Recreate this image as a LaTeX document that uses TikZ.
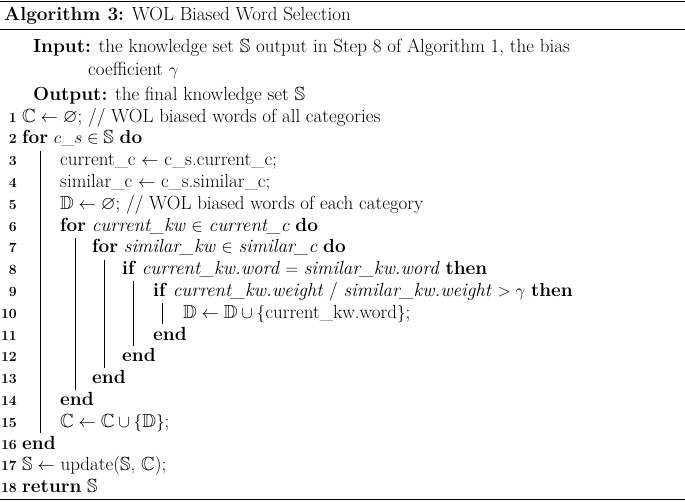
\documentclass[tikz,border=0pt]{standalone}
\usepackage{amssymb}
\begin{document}
\begin{tikzpicture}[x=1pt,y=-1pt,
  txt/.style={anchor=base west,inner sep=0pt,font=\fontsize{19}{22}\selectfont},
  num/.style={anchor=base east,inner sep=0pt,font=\fontsize{14}{16}\selectfont\bfseries},
  bar/.style={line width=0.6pt}]
\useasboundingbox (0,0) rectangle (685,501);
\draw[line width=1.2pt] (0,1.5) coordinate (tl) -- (685,1.5) coordinate (tr);
\node[txt] (title) at (4,20) {\textbf{Algorithm 3:} WOL Biased Word Selection};
\draw[line width=0.8pt] (0,29) coordinate (ml) -- (685,29) coordinate (mr);
\node[txt] (in1) at (33,52) {\textbf{Input:} the knowledge set $\mathbb{S}$ output in Step 8 of Algorithm 1, the bias};
\node[txt] (in2) at (88,75) {coefficient $\gamma$};
\node[txt] (out) at (33,100) {\textbf{Output:} the final knowledge set $\mathbb{S}$};
\foreach \i/\x/\t in {
 1/22/{$\mathbb{C}\leftarrow\varnothing$; // WOL biased words of all categories},
 2/22/{\textbf{for} $c\_s\in\mathbb{S}$ \textbf{do}},
 3/60/{current\_c $\leftarrow$ c\_s.current\_c;},
 4/60/{similar\_c $\leftarrow$ c\_s.similar\_c;},
 5/60/{$\mathbb{D}\leftarrow\varnothing$; // WOL biased words of each category},
 6/60/{\textbf{for} \textit{current\_kw} $\in$ \textit{current\_c} \textbf{do}},
 7/92/{\textbf{for} \textit{similar\_kw} $\in$ \textit{similar\_c} \textbf{do}},
 8/122/{\textbf{if} \textit{current\_kw.word} $=$ \textit{similar\_kw.word} \textbf{then}},
 9/153/{\textbf{if} \textit{current\_kw.weight} / \textit{similar\_kw.weight} $>\gamma$ \textbf{then}},
 10/183/{$\mathbb{D}\leftarrow\mathbb{D}\cup\{$current\_kw.word$\}$;},
 11/153/{\textbf{end}},
 12/122/{\textbf{end}},
 13/92/{\textbf{end}},
 14/60/{\textbf{end}},
 15/60/{$\mathbb{C}\leftarrow\mathbb{C}\cup\{\mathbb{D}\}$;},
 16/22/{\textbf{end}},
 17/22/{$\mathbb{S}\leftarrow$ update($\mathbb{S}$, $\mathbb{C}$);},
 18/22/{\textbf{return} $\mathbb{S}$}}
{
 \pgfmathsetmacro\yy{122+(\i-1)*21.8}
 \node[num] (n\i) at (17,\yy) {\i};
 \node[txt] (l\i) at (\x,\yy) {\t};
}
\foreach \x/\a/\b in {40/3/15,75/7/13,104/8/12,133/9/11,162/10/10}{
 \pgfmathsetmacro\ya{122+(\a-1)*21.8-15}
 \pgfmathsetmacro\yb{122+(\b-1)*21.8+6}
 \draw[bar] (\x,\ya) -- (\x,\yb);
}
\draw[line width=1.2pt] (0,499.5) coordinate (bl) -- (685,499.5) coordinate (br);
\end{tikzpicture}
\end{document}
